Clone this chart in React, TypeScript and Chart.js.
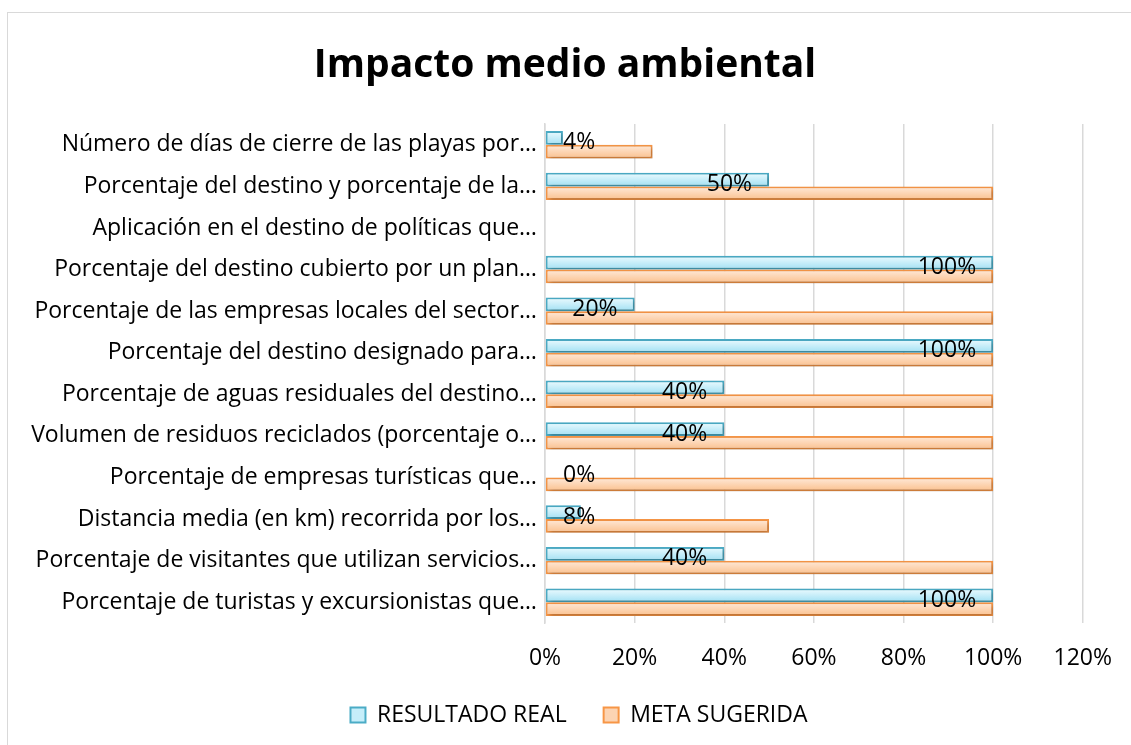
import React, { useEffect, useRef } from "react";
import { Chart, registerables } from "chart.js";

Chart.register(...registerables);

const chartTitle = "Impacto medio ambiental";
const categories = [
  "Número de días de cierre de las playas por…",
  "Porcentaje del destino y porcentaje de la…",
  "Aplicación en el destino de políticas que…",
  "Porcentaje del destino cubierto por un plan…",
  "Porcentaje de las empresas locales del sector…",
  "Porcentaje del destino designado para…",
  "Porcentaje de aguas residuales del destino…",
  "Volumen de residuos reciclados (porcentaje o…",
  "Porcentaje de empresas turísticas que…",
  "Distancia media (en km) recorrida por los…",
  "Porcentaje de visitantes que utilizan servicios…",
  "Porcentaje de turistas y excursionistas que…",
];
const seriesNames = ["RESULTADO REAL", "META SUGERIDA"];
const resultadoReal: (number | null)[] = [4, 50, null, 100, 20, 100, 40, 40, 0, 8, 40, 100];
const metaSugerida: (number | null)[] = [24, 100, null, 100, 100, 100, 100, 100, 100, 50, 100, 100];
const xTickValues = [0, 20, 40, 60, 80, 100, 120];

const FONT = "'Open Sans', 'DejaVu Sans', sans-serif";
const TXT = 23;
const W = 1126;
const H = 732;
const FRAME_W = 1114;

const gradientStops = [
  ["#e2f7fd", "#ace4f5"],
  ["#fee4cf", "#fbc698"],
];

const barStylePlugin = {
  id: "barStyle",
  beforeDatasetDraw(chart: any) {
    const ctx = chart.ctx;
    ctx.save();
    ctx.shadowColor = "rgba(0,0,0,0.28)";
    ctx.shadowBlur = 4;
    ctx.shadowOffsetX = 2;
    ctx.shadowOffsetY = 2;
  },
  afterDatasetDraw(chart: any, args: any) {
    const ctx = chart.ctx;
    ctx.restore();
    const idx = args.index;
    const stops = gradientStops[idx];
    const meta = chart.getDatasetMeta(idx);
    const data = chart.data.datasets[idx].data;
    ctx.save();
    meta.data.forEach((el: any, i: number) => {
      if (data[i] === null || data[i] === undefined) return;
      const left = Math.min(el.base, el.x) + 2;
      const right = Math.max(el.base, el.x) - 2;
      const top = el.y - el.height / 2 + 2;
      const bottom = el.y + el.height / 2 - 2;
      if (right <= left || bottom <= top) return;
      const g = ctx.createLinearGradient(0, top, 0, bottom);
      g.addColorStop(0, stops[0]);
      g.addColorStop(1, stops[1]);
      ctx.fillStyle = g;
      ctx.fillRect(left, top, right - left, bottom - top);
    });
    ctx.restore();
  },
};

const recenterPlugin = {
  id: "recenter",
  afterLayout(chart: any) {
    const t = chart.titleBlock;
    if (t) {
      t.left = 0;
      t.right = FRAME_W;
      t.width = FRAME_W;
    }
    const l = chart.legend;
    if (l) {
      l.left = 28;
      l.right = FRAME_W;
      l.width = FRAME_W - 28;
    }
  },
};

const labelPlugin = {
  id: "barLabels",
  afterDatasetsDraw(chart: any) {
    const ctx = chart.ctx;
    const meta = chart.getDatasetMeta(0);
    const data = chart.data.datasets[0].data;
    const base = chart.scales.x.getPixelForValue(0);
    ctx.save();
    ctx.font = `${TXT}px ${FONT}`;
    ctx.fillStyle = "#000";
    ctx.textAlign = "right";
    ctx.textBaseline = "middle";
    meta.data.forEach((el: any, i: number) => {
      const v = data[i];
      if (v === null || v === undefined) return;
      const text = `${v}%`;
      const w = ctx.measureText(text).width;
      const right = Math.max(el.x - 17, base + 18 + w);
      ctx.fillText(text, right, el.y + 5);
    });
    ctx.restore();
  },
};

export default function App() {
  const canvasRef = useRef<HTMLCanvasElement | null>(null);

  useEffect(() => {
    if (!canvasRef.current) return;
    const chart = new Chart(canvasRef.current, {
      type: "bar",
      data: {
        labels: categories,
        datasets: [
          {
            label: seriesNames[0],
            data: resultadoReal,
            backgroundColor: "#c6eefa",
            borderColor: "#4bacc6",
            borderWidth: 2,
            borderSkipped: false,
            categoryPercentage: 0.66,
            barPercentage: 1.0,
          },
          {
            label: seriesNames[1],
            data: metaSugerida,
            backgroundColor: "#fcd4b3",
            borderColor: "#f79646",
            borderWidth: 2,
            borderSkipped: false,
            categoryPercentage: 0.66,
            barPercentage: 1.0,
          },
        ],
      },
      options: {
        indexAxis: "y",
        responsive: false,
        animation: false,
        layout: { padding: { left: 0, right: 38.4, top: 0, bottom: 8.5 } },
        plugins: {
          title: {
            display: true,
            text: chartTitle,
            color: "#000",
            font: { family: FONT, size: 39, weight: "bold" },
            padding: { top: 29, bottom: 35.2 },
          },
          legend: {
            position: "bottom",
            labels: {
              color: "#000",
              font: { family: FONT, size: TXT },
              boxWidth: 15,
              boxHeight: 15,
              padding: 37,
            },
          },
          tooltip: { enabled: false },
        },
        scales: {
          x: {
            min: 0,
            max: 120,
            afterBuildTicks(scale: any) {
              scale.ticks = xTickValues.map((v) => ({ value: v }));
            },
            afterFit(scale: any) {
              scale.height = 43.5;
            },
            ticks: {
              color: "#000",
              font: { family: FONT, size: TXT },
              padding: 22,
              maxRotation: 0,
              callback: (v: any) => `${v}%`,
            },
            grid: { color: "#d9d9d9", lineWidth: 1.5, drawTicks: false },
            border: { display: false },
          },
          y: {
            afterFit(scale: any) {
              scale.width = 537;
            },
            ticks: {
              color: "#000",
              font: { family: FONT, size: TXT },
              padding: 8,
              autoSkip: false,
            },
            grid: { display: false, drawTicks: false },
            border: { display: true, color: "#d9d9d9", width: 1.5 },
          },
        },
      },
      plugins: [recenterPlugin, barStylePlugin, labelPlugin],
    } as any);
    return () => chart.destroy();
  }, []);

  return (
    <div style={{ position: "fixed", inset: 0, overflow: "hidden", background: "#fff" }}>
      <div
        style={{
          position: "absolute",
          left: 7,
          top: 12,
          width: 1200,
          height: 800,
          border: "1px solid #d9d9d9",
          boxSizing: "border-box",
        }}
      />
      <canvas
        ref={canvasRef}
        width={W}
        height={H}
        style={{ position: "absolute", left: 8, top: 13, width: W, height: H }}
      />
    </div>
  );
}
